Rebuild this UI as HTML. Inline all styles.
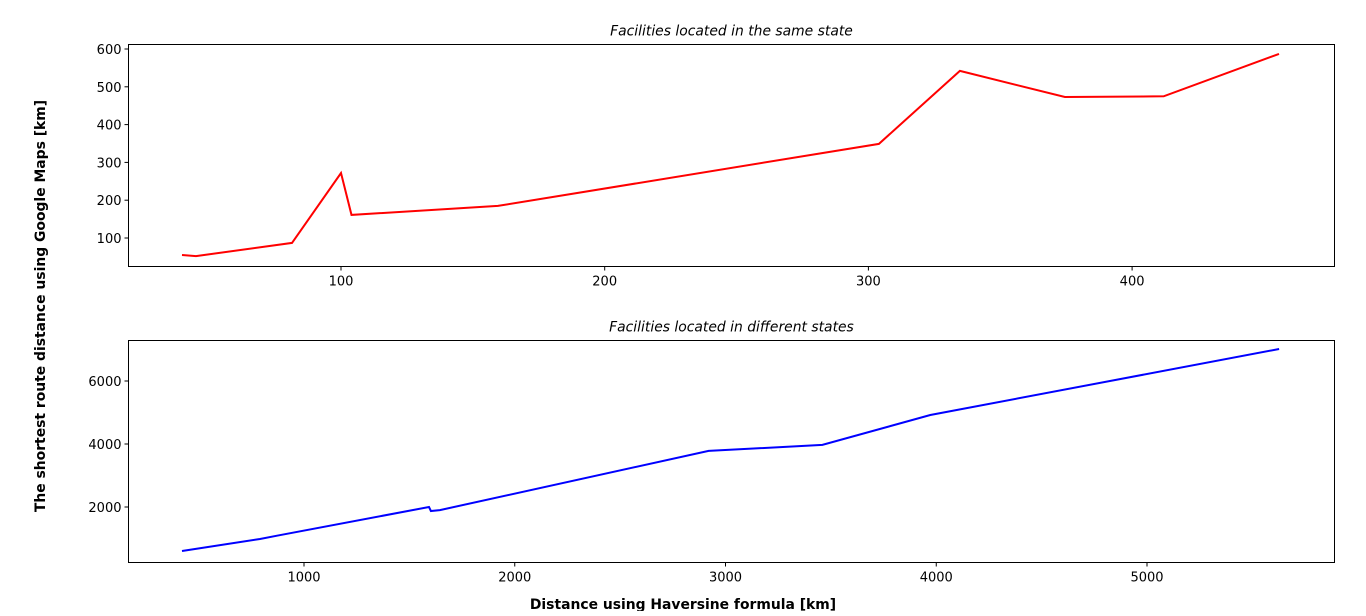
<!DOCTYPE html>
<html><head><meta charset="utf-8"><style>
body{margin:0;background:#fff;font-family:"Liberation Sans","DejaVu Sans",sans-serif;}
text{font-family:"DejaVu Sans","Liberation Sans",sans-serif;font-size:13px;fill:#000}
</style></head><body>
<svg id="chart" width="1366" height="611">
<text x="683" y="609" text-anchor="middle" font-weight="bold" style="font-size:13.9px">Distance using Haversine formula [km]</text>
<text transform="translate(45,306) rotate(-90)" text-anchor="middle" font-weight="bold" style="font-size:13.9px">The shortest route distance using Google Maps [km]</text>
</svg>
<script>
const topX=[39.7,45,81.4,100,104,159.5,304,334.7,374.5,412,455.7];
const topY=[55,52,87,272,161,185,349,542,473,475,587];
const topXTicks=[100,200,300,400];
const topYTicks=[100,200,300,400,500,600];
const botX=[421,791,872,1593,1602,1645,2920,3460,3972,5627];
const botY=[603,984,1090,2000,1873,1900,3780,3970,4920,7016];
const botXTicks=[1000,2000,3000,4000,5000];
const botYTicks=[2000,4000,6000];
const svg=document.getElementById('chart');
const NS='http://www.w3.org/2000/svg';
function mk(t,a,p){const e=document.createElementNS(NS,t);for(const k in a)e.setAttribute(k,a[k]);(p||svg).appendChild(e);return e;}
function panel(name,box,xs,ys,xT,yT,sx,sy,color,title){
  const g=mk('g',{});
  
  
  const t=mk('text',{x:(box.l+box.r)/2,y:box.t-9,'text-anchor':'middle','font-style':'italic',style:'font-size:13.9px'},g);
  t.textContent=title;
  
  
  xT.forEach(v=>{const x=sx(v);mk('line',{x1:x,x2:x,y1:box.b,y2:box.b+4,stroke:'#000'},g);
    const tx=mk('text',{x:x,y:box.b+19,'text-anchor':'middle'},g);tx.textContent=v;
    
    });
  yT.forEach(v=>{const y=sy(v);mk('line',{x1:box.l-4,x2:box.l,y1:y,y2:y,stroke:'#000'},g);
    const ty=mk('text',{x:box.l-7,y:y+5,'text-anchor':'end'},g);ty.textContent=v;
    
    });
  const pts=xs.map((v,i)=>sx(v).toFixed(1)+','+sy(ys[i]).toFixed(1)).join(' ');
  const pl=mk('polyline',{points:pts,fill:'none',stroke:color,'stroke-width':2},g);
  
  
  mk('rect',{x:box.l,y:box.t,width:box.r-box.l,height:box.b-box.t,fill:'none',stroke:'#000'},g);
}
panel('same-state-panel',{l:128.5,r:1334.5,t:44.5,b:266.5},topX,topY,topXTicks,topYTicks,
  v=>341+(v-100)*2.637,v=>49+(600-v)*0.378,'#f00','Facilities located in the same state');
panel('different-states-panel',{l:128.5,r:1334.5,t:340.5,b:562.5},botX,botY,botXTicks,botYTicks,
  v=>304+(v-1000)*0.21075,v=>381+(6000-v)*0.0315,'#00f','Facilities located in different states');
</script>
</body></html>
